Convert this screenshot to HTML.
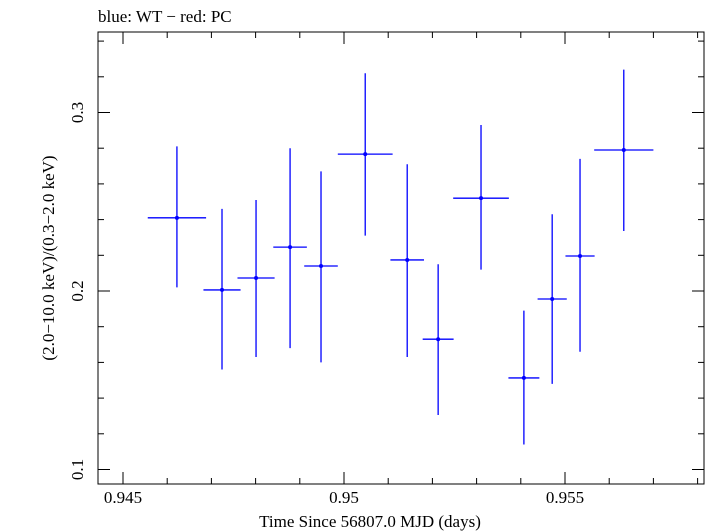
<!DOCTYPE html>
<html><head><meta charset="utf-8"><style>
body{margin:0;background:#fff}
svg{display:block;font-family:"Liberation Serif",serif}
</style></head><body>
<svg id="chart" width="705" height="532">
<text x="98" y="22" font-size="17">blue: WT − red: PC</text>
<rect x="98" y="32" width="606" height="452" fill="none" stroke="#000" stroke-width="1"/>
<g id="axes"></g>
<g id="marks"></g>
<text x="370" y="527" font-size="17" text-anchor="middle">Time Since 56807.0 MJD (days)</text>
<text transform="translate(54,258) rotate(-90)" font-size="17" text-anchor="middle">(2.0−10.0 keV)/(0.3−2.0 keV)</text>
</svg>
<script>
const xVals=[0.94622,0.94724,0.94801,0.94878,0.94948,0.95048,0.95143,0.95213,0.9531,0.95407,0.95471,0.95534,0.95633];
const xErr=[0.00066,0.00042,0.00042,0.00038,0.00038,0.00062,0.00038,0.00035,0.00063,0.00035,0.00033,0.00033,0.00067];
const yVals=[0.241,0.2006,0.2073,0.2246,0.214,0.2767,0.2174,0.173,0.252,0.1513,0.1955,0.2196,0.279];
const yHi=[0.281,0.246,0.251,0.280,0.267,0.322,0.271,0.215,0.293,0.189,0.243,0.274,0.324];
const yLo=[0.202,0.156,0.163,0.168,0.160,0.231,0.163,0.1305,0.212,0.114,0.148,0.166,0.2336];
const xTicks=[0.945,0.95,0.955];
const xTickLabels=["0.945","0.95","0.955"];
const yTicks=[0.1,0.2,0.3];
const yTickLabels=["0.1","0.2","0.3"];
const NS="http://www.w3.org/2000/svg";
const L=98,R=704,T=32,B=484;
const sx=v=>123+(v-0.945)/0.005*221;
const sy=v=>291-(v-0.2)/0.1*178.5;
function mk(tag,attrs,parent){const e=document.createElementNS(NS,tag);for(const k in attrs)e.setAttribute(k,attrs[k]);parent.appendChild(e);return e;}
const axes=document.getElementById('axes'),marks=document.getElementById('marks');
for(let i=0;i<=14;i++){const v=0.944+i*0.001;const x=sx(v);if(x<L||x>R)continue;const major=Math.abs((v*1000)%5)<1e-6||Math.abs((v*1000)%5-5)<1e-6;const len=major?12:6;
const t1=mk('line',{x1:x,x2:x,y1:B,y2:B-len,stroke:'#000'},axes);
const t2=mk('line',{x1:x,x2:x,y1:T,y2:T+len,stroke:'#000'},axes);}
for(let i=0;i<=20;i++){const v=0.08+i*0.02;const y=sy(v);if(y<T||y>B)continue;const major=Math.abs(Math.round(v*10)-v*10)<1e-6;const len=major?12:6;
const t1=mk('line',{x1:L,x2:L+len,y1:y,y2:y,stroke:'#000'},axes);
const t2=mk('line',{x1:R,x2:R-len,y1:y,y2:y,stroke:'#000'},axes);}
xTicks.forEach((v,i)=>{const t=mk('text',{x:sx(v),y:503,'font-size':17,'text-anchor':'middle'},axes);t.textContent=xTickLabels[i];});
yTicks.forEach((v,i)=>{const t=mk('text',{transform:`translate(83,${sy(v)}) rotate(-90)`,'font-size':17,'text-anchor':'middle'},axes);t.textContent=yTickLabels[i];});
xVals.forEach((v,i)=>{const g=mk('g',{},marks);
const x=sx(v),y=sy(yVals[i]);
mk('line',{x1:sx(v-xErr[i]),x2:sx(v+xErr[i]),y1:y,y2:y,stroke:'#0000ff','stroke-width':1.3},g);
mk('line',{x1:x,x2:x,y1:sy(yHi[i]),y2:sy(yLo[i]),stroke:'#0000ff','stroke-width':1.3},g);
mk('circle',{cx:x,cy:y,r:2,fill:'#0000ff'},g);});
</script>
</body></html>
